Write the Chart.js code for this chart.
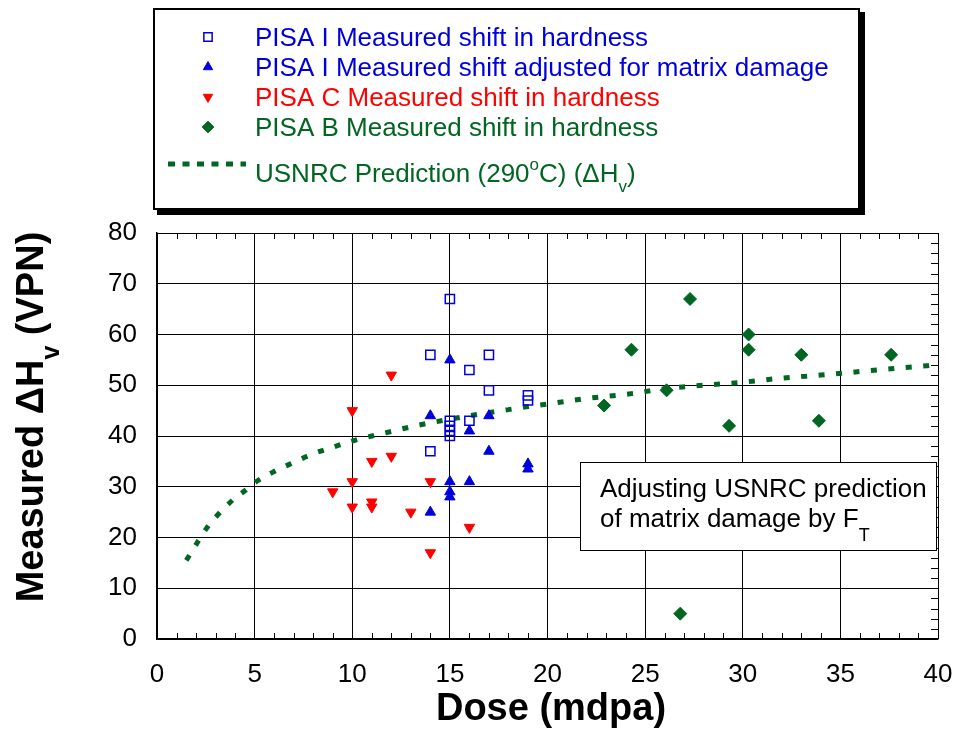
<!DOCTYPE html>
<html>
<head>
<meta charset="utf-8">
<script src="https://cdn.jsdelivr.net/npm/chart.js@4.4.1/dist/chart.umd.min.js"></script>
<style>
  html, body { margin: 0; padding: 0; background: #fff; }
  #wrap { width: 956px; height: 729px; }
</style>
</head>
<body>
<div id="wrap"><canvas id="hvChart" width="956" height="729"></canvas></div>
<script>
// ------------------------------------------
// Data
// ------------------------------------------
const xTicks = [0, 5, 10, 15, 20, 25, 30, 35, 40];
const yTicks = [0, 10, 20, 30, 40, 50, 60, 70, 80];

const pisaIMeasuredX = [15, 14, 17, 16, 17, 19, 19, 15, 15, 15, 15, 16, 14];
const pisaIMeasuredY = [67, 56, 56, 53, 49, 48, 47, 43, 42, 41, 40, 43, 37];

const pisaIAdjustedX = [15, 14, 17, 16, 17, 19, 19, 15, 16, 15, 15, 14];
const pisaIAdjustedY = [55, 44, 44, 41, 37, 34.5, 33.5, 31, 31, 29, 28, 25];

const pisaCX = [12, 10, 11, 12, 10, 14, 9, 11, 11, 10, 13, 16, 14];
const pisaCY = [52, 45, 35, 36, 31, 31, 29, 27, 26, 26, 25, 22, 17];

const pisaBX = [27.3, 30.3, 30.3, 24.3, 33, 37.6, 26.1, 22.9, 33.9, 29.3, 26.8];
const pisaBY = [67, 60, 57, 57, 56, 56, 49, 46, 43, 42, 5];

const usnrcX = [1.5, 2, 2.5, 3, 3.5, 4, 4.5, 5, 6, 7, 8, 9, 10, 11, 12, 13, 14, 15, 16, 17,
                18, 19, 20, 22, 24, 26, 28, 30, 32, 34, 36, 38, 40];
const usnrcY = [15.5, 18.6, 21.6, 24, 26, 27.8, 29.2, 30.8, 33, 34.8, 36.5, 37.8, 39, 40, 40.9,
                41.8, 42.6, 43.3, 44, 44.6, 45.2, 45.8, 46.3, 47.4, 48.2, 49.3, 50, 50.6, 51.4,
                52, 52.7, 53.4, 54];

const BLUE = "#0000dd";
const RED = "#ff0000";
const GREEN = "#006622";
const FONT = "'Liberation Sans', Arial, sans-serif";

function pts(xs, ys) {
    return xs.map((x, i) => ({ x: x, y: ys[i] }));
}

// ------------------------------------------
// Rich text helper (sub / superscripts)
// ------------------------------------------
function drawParts(ctx, parts, x, y, align) {
    let total = 0;
    parts.forEach(p => {
        ctx.font = `${p.bold ? "bold " : ""}${p.size}px ${FONT}`;
        p.w = ctx.measureText(p.t).width;
        total += p.w;
    });
    let cx = align === "center" ? x - total / 2 : x;
    ctx.textAlign = "left";
    ctx.textBaseline = "alphabetic";
    parts.forEach(p => {
        ctx.font = `${p.bold ? "bold " : ""}${p.size}px ${FONT}`;
        ctx.fillText(p.t, cx, y + (p.dy || 0));
        cx += p.w;
    });
}

// ------------------------------------------
// Legend, note box, minor ticks, axis titles
// ------------------------------------------
const decorPlugin = {
    id: "decor",
    afterDraw(chart) {
        const ctx = chart.ctx;
        const xs = chart.scales.x, ys = chart.scales.y;
        const area = chart.chartArea;

        // minor ticks
        ctx.save();
        ctx.strokeStyle = "#000";
        ctx.lineWidth = 1;
        ctx.beginPath();
        for (let v = 1; v < 40; v++) {
            if (v % 5 === 0) continue;
            const px = Math.round(xs.getPixelForValue(v)) + 0.5;
            ctx.moveTo(px, area.bottom); ctx.lineTo(px, area.bottom - 6);
            ctx.moveTo(px, area.top); ctx.lineTo(px, area.top + 6);
        }
        for (let v = 2; v < 80; v += 2) {
            if (v % 10 === 0) continue;
            const py = Math.round(ys.getPixelForValue(v)) + 0.5;
            ctx.moveTo(area.right, py); ctx.lineTo(area.right - 7, py);
        }
        ctx.stroke();
        ctx.restore();

        // note box
        ctx.save();
        ctx.fillStyle = "#fff";
        ctx.fillRect(580, 462, 356, 88);
        ctx.strokeStyle = "#000";
        ctx.lineWidth = 1;
        ctx.strokeRect(580.5, 462.5, 356, 88);
        ctx.fillStyle = "#000";
        drawParts(ctx, [{ t: "Adjusting USNRC prediction", size: 26 }], 600, 497, "left");
        drawParts(ctx, [
            { t: "of matrix damage by F", size: 26 },
            { t: "T", size: 18, dy: 14 }
        ], 600, 527, "left");
        ctx.restore();

        // legend box
        ctx.save();
        ctx.fillStyle = "#000";
        ctx.fillRect(157, 12, 708, 203);
        ctx.fillStyle = "#fff";
        ctx.fillRect(153, 8, 707, 202);
        ctx.strokeStyle = "#000";
        ctx.lineWidth = 2;
        ctx.strokeRect(154, 9, 705, 200);

        const rows = [
            { ds: 0, y: 37, color: BLUE },
            { ds: 1, y: 67, color: BLUE },
            { ds: 2, y: 97, color: RED },
            { ds: 3, y: 127, color: GREEN }
        ];
        rows.forEach(r => {
            const d = chart.data.datasets[r.ds];
            ctx.fillStyle = d.backgroundColor;
            ctx.strokeStyle = d.borderColor;
            ctx.lineWidth = d.borderWidth;
            Chart.helpers.drawPoint(ctx, {
                pointStyle: d.pointStyle,
                radius: d.pointRadius * 0.9,
                rotation: d.rotation || 0,
                borderWidth: d.borderWidth
            }, 208, r.y);
            ctx.fillStyle = r.color;
            drawParts(ctx, [{ t: d.label, size: 26 }], 255, r.y + 9, "left");
        });

        // USNRC legend sample
        ctx.strokeStyle = GREEN;
        ctx.lineWidth = 5;
        ctx.setLineDash([7, 7.5]);
        ctx.beginPath();
        ctx.moveTo(168, 164);
        ctx.lineTo(246, 164);
        ctx.stroke();
        ctx.setLineDash([]);
        ctx.fillStyle = GREEN;
        drawParts(ctx, [
            { t: "USNRC Prediction (290", size: 26 },
            { t: "o", size: 17, dy: -12 },
            { t: "C) (\u0394H", size: 26 },
            { t: "v", size: 17, dy: 10 },
            { t: ")", size: 26 }
        ], 255, 182, "left");
        ctx.restore();

        // axis titles
        ctx.save();
        ctx.fillStyle = "#000";
        drawParts(ctx, [{ t: "Dose (mdpa)", size: 38, bold: true }], 551, 720, "center");
        ctx.translate(43, 417);
        ctx.rotate(-Math.PI / 2);
        drawParts(ctx, [
            { t: "Measured \u0394H", size: 38, bold: true },
            { t: "v", size: 25, bold: true, dy: 16 },
            { t: " (VPN)", size: 38, bold: true }
        ], 0, 0, "center");
        ctx.restore();
    }
};

// ------------------------------------------
// Chart
// ------------------------------------------
new Chart(document.getElementById("hvChart"), {
    type: "scatter",
    data: {
        datasets: [
            {
                label: "PISA I Measured shift in hardness",
                data: pts(pisaIMeasuredX, pisaIMeasuredY),
                pointStyle: "rect",
                pointRadius: 6.5,
                backgroundColor: "rgba(0,0,0,0)",
                borderColor: BLUE,
                borderWidth: 1.5
            },
            {
                label: "PISA I Measured shift adjusted for matrix damage",
                data: pts(pisaIAdjustedX, pisaIAdjustedY),
                pointStyle: "triangle",
                pointRadius: 6,
                backgroundColor: BLUE,
                borderColor: BLUE,
                borderWidth: 1
            },
            {
                label: "PISA C Measured shift in hardness",
                data: pts(pisaCX, pisaCY),
                pointStyle: "triangle",
                rotation: 180,
                pointRadius: 6,
                backgroundColor: RED,
                borderColor: RED,
                borderWidth: 1
            },
            {
                label: "PISA B Measured shift in hardness",
                data: pts(pisaBX, pisaBY),
                pointStyle: "rectRot",
                pointRadius: 6.5,
                backgroundColor: GREEN,
                borderColor: GREEN,
                borderWidth: 1
            },
            {
                label: "USNRC Prediction",
                data: pts(usnrcX, usnrcY),
                showLine: true,
                pointRadius: 0,
                borderColor: GREEN,
                borderWidth: 5,
                borderDash: [6, 11.5],
                cubicInterpolationMode: "monotone",
                fill: false
            }
        ]
    },
    options: {
        responsive: false,
        animation: false,
        events: [],
        layout: { padding: { top: 233, right: 18, left: 0, bottom: 0 } },
        plugins: { legend: { display: false }, tooltip: { enabled: false } },
        scales: {
            x: {
                type: "linear",
                min: 0,
                max: 40,
                afterFit(scale) {
                    scale.height = 90;
                    scale.paddingLeft = 0;
                    scale.paddingRight = 0;
                },
                afterBuildTicks(scale) { scale.ticks = xTicks.map(v => ({ value: v })); },
                ticks: { color: "#000", padding: 20, font: { size: 26, family: FONT } },
                grid: { color: "#000", lineWidth: 1, drawTicks: false },
                border: { color: "#000", width: 1.5 }
            },
            y: {
                type: "linear",
                min: 0,
                max: 80,
                afterFit(scale) {
                    scale.width = 157;
                    scale.paddingTop = 0;
                    scale.paddingBottom = 0;
                },
                afterBuildTicks(scale) { scale.ticks = yTicks.map(v => ({ value: v })); },
                ticks: { color: "#000", padding: 20, font: { size: 26, family: FONT } },
                grid: { color: "#000", lineWidth: 1, drawTicks: false },
                border: { color: "#000", width: 1.5 }
            }
        }
    },
    plugins: [decorPlugin]
});
</script>
</body>
</html>
